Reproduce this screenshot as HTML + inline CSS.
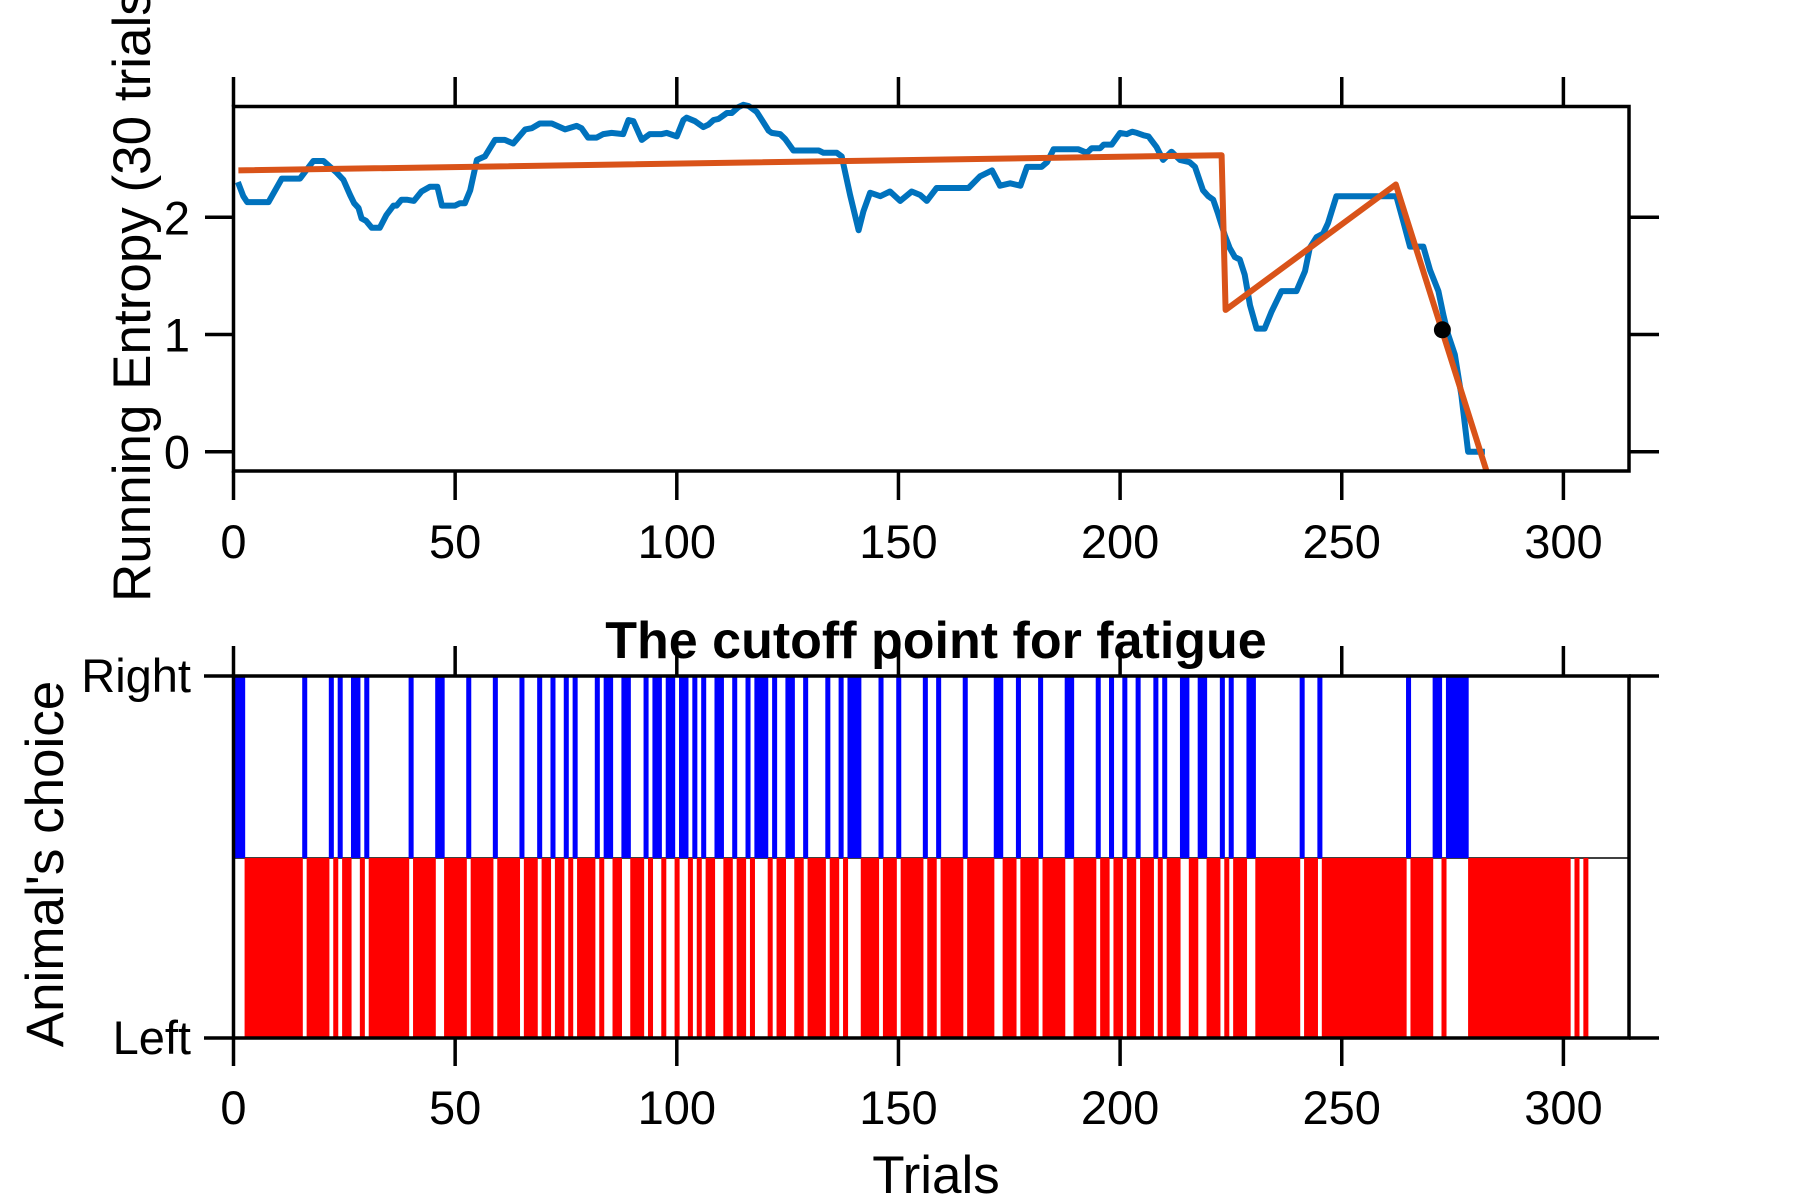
<!DOCTYPE html>
<html><head><meta charset="utf-8"><style>
html,body{margin:0;padding:0;background:#fff;}
svg{display:block;font-family:"Liberation Sans",Arial,sans-serif;}
</style></head><body>
<svg id="chart" width="1800" height="1200" viewBox="0 0 1800 1200" xmlns="http://www.w3.org/2000/svg">
<g id="topPanel"></g>
<g id="botPanel"></g>
</svg>
<script>
// ---- Top panel data ----
const entTrials = [1,2.2,3.1,7.9,10.9,15,18,20.3,21.8,23.3,24.8,26.3,27.2,28.2,28.9,29.9,31.2,33,34.5,36.1,36.8,37.9,39.1,40.7,42.4,44.3,46,47,50,51.1,52.2,53.4,54.9,56.7,59,61.2,63.1,65.8,67.3,69.1,71.8,74.8,77.4,78.5,80,81.9,83.4,85.3,87.9,89.1,90.2,92.1,93.9,96.6,97.7,100,101.5,102.2,104.1,105.2,106.0,107.1,108.3,109.4,111.3,112.4,113.9,115.0,116.2,118.0,119.2,120.7,121.4,123.3,124.4,126.3,132.0,133.1,136.1,137.2,139.1,141.0,142.1,143.6,145.9,148.1,150.4,153.0,154.9,156.4,158.6,165.8,168.4,171.1,172.9,175.2,177.5,179.0,182.3,183.5,185.0,190.6,192.5,193.6,195.5,196.3,198.1,200.0,201.5,202.7,203.8,205.3,206.4,208.2,209.7,211.6,213.5,215.7,216.9,218.7,219.9,221.0,222.1,223.6,224.7,225.9,227.0,228.1,229.3,230.8,232.6,234.1,236.4,239.8,241.7,242.8,244.3,245.8,246.9,248.8,262.3,263.9,265.4,268.4,269.9,271.8,272.9,274.0,275.5,277.0,278.5,282.3];
const entValues = [2.30,2.18,2.13,2.13,2.33,2.33,2.48,2.48,2.43,2.38,2.32,2.19,2.12,2.08,1.99,1.97,1.91,1.91,2.02,2.10,2.10,2.15,2.15,2.14,2.22,2.26,2.26,2.10,2.10,2.12,2.12,2.23,2.49,2.52,2.66,2.66,2.63,2.75,2.76,2.80,2.80,2.75,2.78,2.76,2.68,2.68,2.71,2.72,2.71,2.83,2.82,2.66,2.71,2.71,2.72,2.69,2.83,2.85,2.82,2.79,2.77,2.79,2.83,2.84,2.89,2.89,2.94,2.96,2.95,2.90,2.83,2.74,2.72,2.71,2.67,2.57,2.57,2.55,2.55,2.52,2.19,1.89,2.05,2.21,2.18,2.22,2.14,2.22,2.19,2.14,2.25,2.25,2.35,2.40,2.27,2.29,2.27,2.43,2.43,2.47,2.58,2.58,2.55,2.59,2.59,2.62,2.62,2.72,2.71,2.73,2.72,2.70,2.69,2.60,2.49,2.56,2.49,2.47,2.43,2.23,2.18,2.15,2.03,1.85,1.74,1.66,1.64,1.51,1.25,1.05,1.05,1.19,1.37,1.37,1.54,1.74,1.83,1.86,1.95,2.18,2.18,1.96,1.75,1.75,1.55,1.37,1.17,1.00,0.83,0.48,0.00,0.00];
const fitTrials = [1.1,222.9,223.8,262.2,282.7];
const fitValues = [2.40,2.53,1.21,2.28,-0.17];
const cutoffTrial = [272.7];
const cutoffValue = [1.04];
const xTicks = [0,50,100,150,200,250,300];
const yTicks = [0,1,2];
// ---- Bottom panel data ----
const nTrials = 306;
const rightTrials = [0,1,2,16,22,24,27,28,30,40,46,47,53,59,65,69,72,75,77,82,84,85,88,89,93,95,96,98,99,101,102,104,106,109,110,113,116,118,119,120,122,125,126,129,134,137,139,140,141,146,150,156,159,165,172,173,177,182,188,189,195,198,201,204,208,210,214,215,218,219,223,225,229,230,241,245,265,271,272,274,275,276,277,278];
const missingTrials = [302,304];
const choiceTicks = ["Left","Right"];

const NS = "http://www.w3.org/2000/svg";
const X0 = 233.5, XS = 4.433, XMAX = 314.8;
const xp = t => X0 + t * XS;
const yTopP = v => 451.7 - 117.2 * v;
const BT = 676, BM = 858, BB = 1038;
const AW = 3.5;
function mk(parent, tag, attrs, text) {
  const e = document.createElementNS(NS, tag);
  for (const k in attrs) e.setAttribute(k, attrs[k]);
  if (text !== undefined) e.textContent = text;
  parent.appendChild(e);
  return e;
}
const topG = document.getElementById('topPanel');
const botG = document.getElementById('botPanel');
const RX = xp(XMAX);

// ===== Top panel =====
const tTop = 106.5, tBot = 471;
let el = mk(topG, 'rect', {x: X0, y: tTop, width: RX - X0, height: tBot - tTop, fill: '#fff'});


let d = entTrials.map((t, i) => (i ? 'L' : 'M') + xp(t).toFixed(1) + ',' + yTopP(entValues[i]).toFixed(1)).join(' ');
el = mk(topG, 'path', {d: d, fill: 'none', stroke: '#0072BD', 'stroke-width': 6, 'stroke-linejoin': 'round'});


d = fitTrials.map((t, i) => (i ? 'L' : 'M') + xp(t).toFixed(1) + ',' + yTopP(fitValues[i]).toFixed(1)).join(' ');
el = mk(topG, 'path', {d: d, fill: 'none', stroke: '#D95319', 'stroke-width': 6, 'stroke-linejoin': 'round'});


cutoffTrial.forEach((t, i) => {
  const c = mk(topG, 'circle', {cx: xp(t), cy: yTopP(cutoffValue[i]), r: 8.5, fill: '#000'});
  
  
});
el = mk(topG, 'rect', {x: X0, y: tTop, width: RX - X0, height: tBot - tTop, fill: 'none', stroke: '#000', 'stroke-width': AW});


xTicks.forEach(v => {
  const x = xp(v);
  let l = mk(topG, 'line', {x1: x, x2: x, y1: 77, y2: tTop, stroke: '#000', 'stroke-width': AW});
  
  
  l = mk(topG, 'line', {x1: x, x2: x, y1: tBot, y2: 500, stroke: '#000', 'stroke-width': AW});
  
  
  const tx = mk(topG, 'text', {x: x, y: 558, 'font-size': 47, 'text-anchor': 'middle'}, String(v));
  
  
});
yTicks.forEach(v => {
  const y = yTopP(v);
  let l = mk(topG, 'line', {x1: 205, x2: X0, y1: y, y2: y, stroke: '#000', 'stroke-width': AW});
  
  
  l = mk(topG, 'line', {x1: RX, x2: RX + 30, y1: y, y2: y, stroke: '#000', 'stroke-width': AW});
  
  
  const tx = mk(topG, 'text', {x: 190, y: y + 17, 'font-size': 47, 'text-anchor': 'end'}, String(v));
  
  
});
el = mk(topG, 'text', {x: 0, y: 0, 'font-size': 53, transform: 'translate(150,602) rotate(-90)'}, 'Running Entropy (30 trials)');



// ===== Bottom panel =====
el = mk(botG, 'line', {x1: X0, x2: RX, y1: BM, y2: BM, stroke: '#000', 'stroke-width': 1.5});


for (let k = 0; k < nTrials; k++) {
  if (missingTrials.includes(k)) continue;
  const isR = rightTrials.includes(k);
  const x1 = Math.max(X0, xp(k - 0.5)), x2 = xp(k + 0.5) + 0.6;
  const b = mk(botG, 'rect', {x: x1.toFixed(2), y: isR ? BT : BM, width: (x2 - x1).toFixed(2), height: isR ? BM - BT : BB - BM, fill: isR ? '#0000FF' : '#FF0000'});
  
  
}
el = mk(botG, 'rect', {x: X0, y: BT, width: RX - X0, height: BB - BT, fill: 'none', stroke: '#000', 'stroke-width': AW});


xTicks.forEach(v => {
  const x = xp(v);
  let l = mk(botG, 'line', {x1: x, x2: x, y1: 646, y2: BT, stroke: '#000', 'stroke-width': AW});
  
  
  l = mk(botG, 'line', {x1: x, x2: x, y1: BB, y2: 1066, stroke: '#000', 'stroke-width': AW});
  
  
  const tx = mk(botG, 'text', {x: x, y: 1124, 'font-size': 47, 'text-anchor': 'middle'}, String(v));
  
  
});
choiceTicks.forEach((lab, i) => {
  const y = i === 0 ? BB : BT;
  let l = mk(botG, 'line', {x1: 204, x2: X0, y1: y, y2: y, stroke: '#000', 'stroke-width': AW});
  
  
  l = mk(botG, 'line', {x1: RX, x2: RX + 30, y1: y, y2: y, stroke: '#000', 'stroke-width': AW});
  
  
  const tx = mk(botG, 'text', {x: 191, y: y + 16, 'font-size': 47, 'text-anchor': 'end'}, lab);
  
  
});
el = mk(botG, 'text', {x: 936, y: 658, 'font-size': 52, 'font-weight': 'bold', 'text-anchor': 'middle'}, 'The cutoff point for fatigue');


el = mk(botG, 'text', {x: 0, y: 0, 'font-size': 53, 'text-anchor': 'middle', transform: 'translate(63,864) rotate(-90)'}, "Animal's choice");


el = mk(botG, 'text', {x: 936, y: 1193, 'font-size': 53, 'text-anchor': 'middle'}, 'Trials');


</script>
</body></html>
